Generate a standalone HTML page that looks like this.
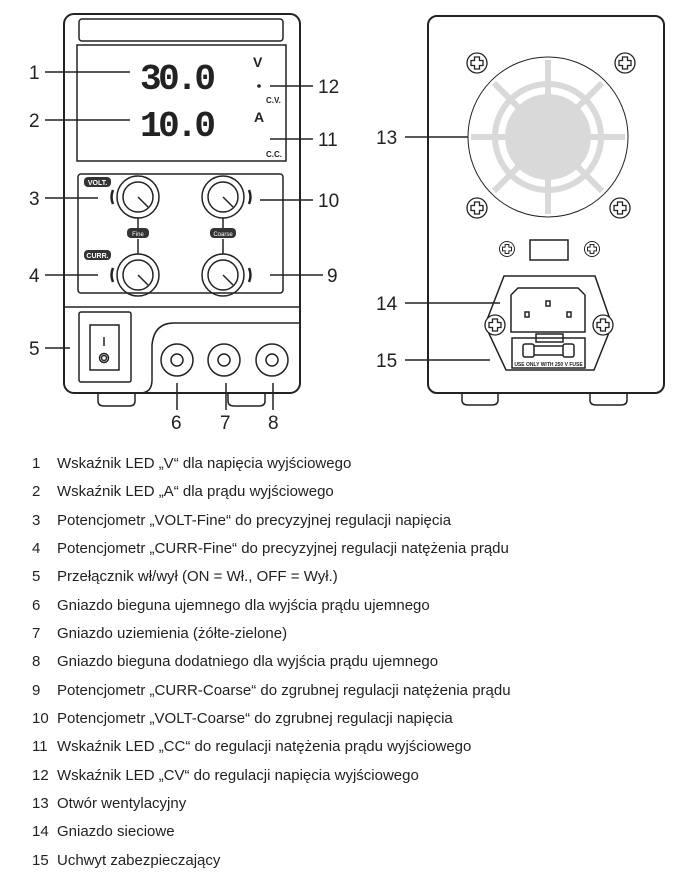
<!DOCTYPE html>
<html><head><meta charset="utf-8"><style>
body{margin:0;background:#fff;width:684px;height:886px;overflow:hidden}
svg{display:block}
text{font-family:"Liberation Sans",sans-serif;fill:#222}
.n{font-size:19px}
.l{font-size:15px}
</style></head><body>
<svg width="684" height="886" viewBox="0 0 684 886" xmlns="http://www.w3.org/2000/svg">
<defs>
<g id="s" fill="#fff" stroke="#222" stroke-width="1.3"><circle r="10"/><path d="M-2.5 -6 h5 v3.5 h3.5 v5 h-3.5 v3.5 h-5 v-3.5 h-3.5 v-5 h3.5z"/></g>
</defs>
<g fill="none" stroke="#222" stroke-width="1.5">
<path d="M98 393 v8 q0 5 6 5 h25 q6 0 6 -5 v-8"/>
<path d="M228 393 v8 q0 5 6 5 h25 q6 0 6 -5 v-8"/>
<rect x="64" y="14" width="236" height="379" rx="10" stroke-width="2"/>
<rect x="79" y="19" width="204" height="22" rx="3"/>
<rect x="77" y="45" width="209" height="116"/>
<rect x="78" y="174" width="205" height="119" rx="3"/>
<line x1="64" y1="307" x2="300" y2="307"/>
<rect x="79" y="312" width="52" height="70" rx="2"/>
<rect x="90" y="325" width="29" height="45"/>
<line x1="104" y1="337" x2="104" y2="346"/>
<circle cx="104" cy="358" r="4.5"/><circle cx="104" cy="358" r="2.5"/>
<path d="M300 323 H174 q-20 0 -22 22 V380 q0 13 -12 13"/>
<circle cx="177" cy="360" r="16"/><circle cx="177" cy="360" r="6"/>
<circle cx="224" cy="360" r="16"/><circle cx="224" cy="360" r="6"/>
<circle cx="272" cy="360" r="16"/><circle cx="272" cy="360" r="6"/>
<circle cx="138" cy="197" r="21"/><circle cx="138" cy="197" r="15"/><line x1="138" y1="197" x2="148" y2="207"/>
<circle cx="223" cy="197" r="21"/><circle cx="223" cy="197" r="15"/><line x1="223" y1="197" x2="233" y2="207"/>
<circle cx="138" cy="275" r="21"/><circle cx="138" cy="275" r="15"/><line x1="138" y1="275" x2="148" y2="285"/>
<circle cx="223" cy="275" r="21"/><circle cx="223" cy="275" r="15"/><line x1="223" y1="275" x2="233" y2="285"/>
<line x1="138" y1="218" x2="138" y2="228"/><line x1="138" y1="239" x2="138" y2="254"/>
<line x1="223" y1="218" x2="223" y2="228"/><line x1="223" y1="239" x2="223" y2="254"/>
<path d="M113 190 q-3 7 0 14" stroke-width="2.5"/><path d="M113 268 q-3 7 0 14" stroke-width="2.5"/>
<path d="M249 190 q3 7 0 14" stroke-width="2.5"/><path d="M249 268 q3 7 0 14" stroke-width="2.5"/>
<line x1="45" y1="72" x2="130" y2="72"/>
<line x1="45" y1="120" x2="130" y2="120"/>
<line x1="270" y1="86" x2="313" y2="86"/>
<line x1="270" y1="139" x2="313" y2="139"/>
<line x1="45" y1="198" x2="98" y2="198"/>
<line x1="260" y1="200" x2="313" y2="200"/>
<line x1="45" y1="275" x2="98" y2="275"/>
<line x1="270" y1="275" x2="323" y2="275"/>
<line x1="45" y1="348" x2="70" y2="348"/>
<line x1="177" y1="383" x2="177" y2="410"/>
<line x1="226" y1="383" x2="226" y2="410"/>
<line x1="273" y1="383" x2="273" y2="410"/>
<path d="M462 393 v7 q0 5 6 5 h24 q6 0 6 -5 v-7"/>
<path d="M590 393 v7 q0 5 6 5 h25 q6 0 6 -5 v-7"/>
<rect x="428" y="16" width="236" height="377" rx="9" stroke-width="2"/>
<circle cx="548" cy="137" r="80" stroke-width="1"/>
<rect x="530" y="240" width="38" height="20"/>
<path d="M504 276 H595 L612 325 L594 370 H506 L485 325 Z"/>
<path d="M518 288 H578 L585 295 V332 H511 V295 Z"/>
<rect x="512" y="338" width="73" height="30"/>
<rect x="536" y="334" width="27" height="8"/>
<rect x="523" y="344" width="11" height="13" rx="2"/><rect x="563" y="344" width="11" height="13" rx="2"/>
<line x1="534" y1="346" x2="563" y2="346"/><line x1="534" y1="355" x2="563" y2="355"/>
<rect x="546" y="301" width="4" height="5"/><rect x="525" y="312" width="4" height="5"/><rect x="567" y="312" width="4" height="5"/>
<line x1="405" y1="137" x2="468" y2="137"/>
<line x1="405" y1="303" x2="500" y2="303"/>
<line x1="405" y1="360" x2="490" y2="360"/>
</g>
<g fill="none" stroke="#d9d9d9" stroke-width="6">
<circle cx="548" cy="137" r="53"/>
<line x1="548" y1="60" x2="548" y2="214"/><line x1="471" y1="137" x2="625" y2="137"/>
<line x1="494" y1="83" x2="602" y2="191"/><line x1="602" y1="83" x2="494" y2="191"/>
</g>
<circle cx="548" cy="137" r="43" fill="#d9d9d9"/>
<use href="#s" x="477" y="63"/><use href="#s" x="625" y="63"/><use href="#s" x="477" y="208"/><use href="#s" x="620" y="208"/>
<use href="#s" x="495" y="325"/><use href="#s" x="603" y="325"/>
<use href="#s" transform="translate(507 249) scale(0.75)"/><use href="#s" transform="translate(592 249) scale(0.75)"/>
<text x="548.5" y="366" font-size="5" text-anchor="middle" font-weight="bold">USE ONLY WITH 250 V FUSE</text>
<text x="140" y="89" font-size="36" font-weight="bold" style="font-family:'Liberation Mono',monospace;fill:#222" textLength="76">30.0</text>
<text x="140" y="136" font-size="36" font-weight="bold" style="font-family:'Liberation Mono',monospace;fill:#222" textLength="76">10.0</text>
<text x="253" y="67" font-size="14" font-weight="bold">V</text>
<circle cx="259" cy="86" r="1.8" fill="#222"/>
<text x="266" y="103" font-size="8" font-weight="bold">C.V.</text>
<text x="254" y="122" font-size="14" font-weight="bold">A</text>
<text x="266" y="157" font-size="8" font-weight="bold">C.C.</text>
<rect x="84" y="177" width="27" height="10" rx="4" fill="#333"/><text x="97.5" y="185" font-size="7" text-anchor="middle" style="fill:#fff;font-weight:bold">VOLT.</text>
<rect x="84" y="250" width="27" height="10" rx="4" fill="#333"/><text x="97.5" y="258" font-size="7" text-anchor="middle" style="fill:#fff;font-weight:bold">CURR.</text>
<rect x="127" y="228" width="22" height="10" rx="4" fill="#333"/><text x="138" y="236" font-size="6" text-anchor="middle" style="fill:#fff">Fine</text>
<rect x="210" y="228" width="26" height="10" rx="4" fill="#333"/><text x="223" y="236" font-size="6" text-anchor="middle" style="fill:#fff">Coarse</text>
<g class="n">
<text x="29" y="79">1</text><text x="29" y="127">2</text><text x="29" y="205">3</text><text x="29" y="282">4</text><text x="29" y="355">5</text>
<text x="318" y="93">12</text><text x="318" y="146">11</text><text x="318" y="207">10</text><text x="327" y="282">9</text>
<text x="171" y="429">6</text><text x="220" y="429">7</text><text x="268" y="429">8</text>
<text x="376" y="144">13</text><text x="376" y="310">14</text><text x="376" y="367">15</text>
</g>
<g class="l">
<text x="32" y="468">1</text><text x="57" y="468">Wskaźnik LED „V“ dla napięcia wyjściowego</text>
<text x="32" y="496">2</text><text x="57" y="496">Wskaźnik LED „A“ dla prądu wyjściowego</text>
<text x="32" y="525">3</text><text x="57" y="525">Potencjometr „VOLT-Fine“ do precyzyjnej regulacji napięcia</text>
<text x="32" y="553">4</text><text x="57" y="553">Potencjometr „CURR-Fine“ do precyzyjnej regulacji natężenia prądu</text>
<text x="32" y="581">5</text><text x="57" y="581">Przełącznik wł/wył (ON = Wł., OFF = Wył.)</text>
<text x="32" y="610">6</text><text x="57" y="610">Gniazdo bieguna ujemnego dla wyjścia prądu ujemnego</text>
<text x="32" y="638">7</text><text x="57" y="638">Gniazdo uziemienia (żółte-zielone)</text>
<text x="32" y="666">8</text><text x="57" y="666">Gniazdo bieguna dodatniego dla wyjścia prądu ujemnego</text>
<text x="32" y="695">9</text><text x="57" y="695">Potencjometr „CURR-Coarse“ do zgrubnej regulacji natężenia prądu</text>
<text x="32" y="723">10</text><text x="57" y="723">Potencjometr „VOLT-Coarse“ do zgrubnej regulacji napięcia</text>
<text x="32" y="751">11</text><text x="57" y="751">Wskaźnik LED „CC“ do regulacji natężenia prądu wyjściowego</text>
<text x="32" y="780">12</text><text x="57" y="780">Wskaźnik LED „CV“ do regulacji napięcia wyjściowego</text>
<text x="32" y="808">13</text><text x="57" y="808">Otwór wentylacyjny</text>
<text x="32" y="836">14</text><text x="57" y="836">Gniazdo sieciowe</text>
<text x="32" y="865">15</text><text x="57" y="865">Uchwyt zabezpieczający</text>
</g>
</svg>
</body></html>
